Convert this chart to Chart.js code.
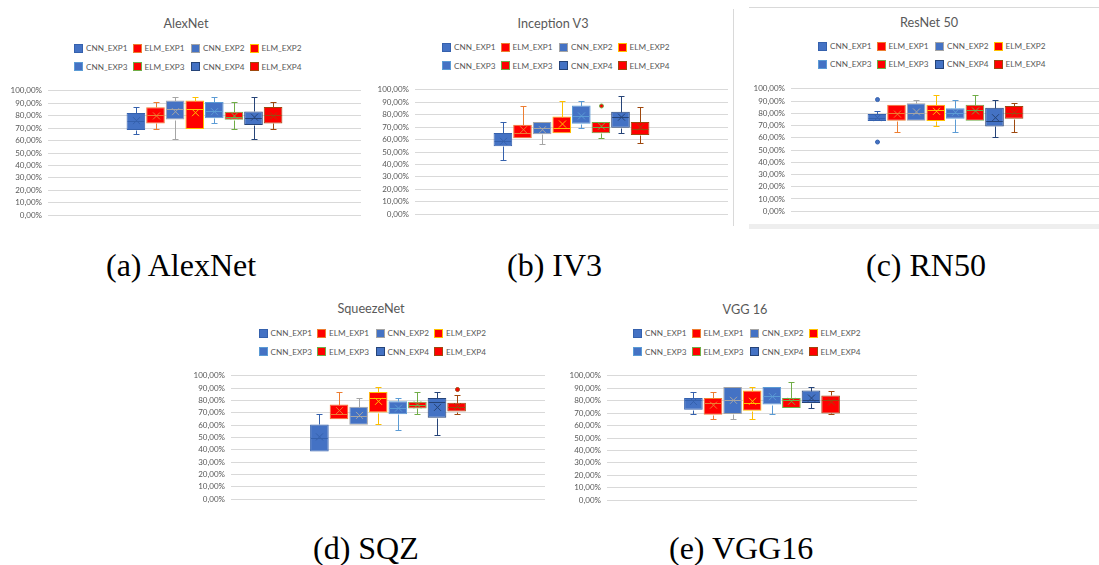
<!DOCTYPE html>
<html>
<head>
<meta charset="utf-8">
<script src="https://cdn.jsdelivr.net/npm/chart.js@4.4.1/dist/chart.umd.min.js"></script>
<style>
  html, body { margin: 0; padding: 0; background: #fff; width: 1099px; height: 565px; overflow: hidden; }
  body { position: relative; font-family: Lato, "Liberation Sans", sans-serif; }
  canvas { position: absolute; }
  .title { position: absolute; color: #595959; font-size: 12.7px; white-space: nowrap; transform: translate(-50%, -50%); line-height: 1; }
  .legend-item { position: absolute; height: 9px; width: 58px; font-size: 8.2px; color: #595959; white-space: nowrap; }
  .legend-item i { position: absolute; left: 0; top: 0; width: 7px; height: 7px; border: 1px solid; }
  .legend-item span { position: absolute; left: 12px; top: 50%; transform: translateY(-50%); line-height: 1; }
  .caption { position: absolute; font-family: "Liberation Serif", "Times New Roman", serif; font-size: 32px; line-height: 32px; color: #000; white-space: nowrap; }
  .frame { position: absolute; background: #D9D9D9; }
</style>
</head>
<body>
<script>
// Series shared by every panel
const seriesNames = ['CNN_EXP1', 'ELM_EXP1', 'CNN_EXP2', 'ELM_EXP2', 'CNN_EXP3', 'ELM_EXP3', 'CNN_EXP4', 'ELM_EXP4'];
const fillColors  = ['#4472C4', '#FF0000', '#4472C4', '#FF0000', '#4472C4', '#FF0000', '#4472C4', '#FF0000'];
const lineColors  = ['#3561AD', '#ED7D31', '#A5A5A5', '#FFC000', '#5B9BD5', '#70AD47', '#264478', '#9E480E'];

const chartTitles = ['AlexNet', 'Inception V3', 'ResNet 50', 'SqueezeNet', 'VGG 16'];
const captions    = ['(a) AlexNet', '(b) IV3', '(c) RN50', '(d) SQZ', '(e) VGG16'];

// Accuracy (%) per series: [min, q1, median, q3, max, mean]
const alexnetBoxes = [
  [65.0, 68.4, 75.9, 82.1, 86.8, 76.0],
  [69.2, 73.8, 80.6, 86.8, 90.7, 79.8],
  [60.9, 76.9, 85.0, 92.2, 94.8, 83.2],
  [69.2, 69.2, 85.0, 92.2, 94.8, 82.4],
  [73.8, 78.0, 84.0, 90.9, 94.8, 83.2],
  [69.2, 76.7, 79.0, 83.2, 90.7, 79.8],
  [60.9, 72.5, 78.0, 83.4, 95.0, 78.8],
  [69.2, 73.8, 80.6, 87.0, 90.7, 79.8]
];
const alexnetOutliers = [[], [], [], [], [], [], [], []];

const inceptionBoxes = [
  [43.3, 54.7, 59.1, 65.3, 74.4, 58.6],
  [61.1, 61.1, 65.0, 72.0, 87.0, 67.9],
  [56.5, 64.2, 69.4, 74.1, 74.1, 67.9],
  [65.0, 65.0, 69.4, 78.5, 91.2, 72.5],
  [69.4, 72.8, 79.0, 87.3, 91.2, 79.0],
  [61.1, 65.0, 69.9, 74.1, 74.1, 70.7],
  [65.0, 69.4, 78.5, 82.4, 95.3, 78.0],
  [57.5, 63.7, 68.1, 74.1, 86.0, 70.0]
];
const inceptionOutliers = [[], [], [], [], [], [87.0], [], []];

const resnetBoxes = [
  [73.6, 73.6, 76.4, 79.5, 81.9, 76.4],
  [65.0, 73.8, 80.6, 87.0, 87.0, 79.3],
  [73.8, 73.8, 80.6, 88.1, 90.9, 81.1],
  [69.2, 73.6, 82.4, 87.0, 95.1, 81.6],
  [65.0, 75.6, 80.6, 84.2, 90.9, 80.8],
  [73.8, 73.8, 82.4, 87.0, 95.1, 81.9],
  [60.9, 69.2, 74.1, 84.5, 90.9, 76.4],
  [65.0, 75.6, 80.6, 86.0, 88.6, 80.3]
];
const resnetOutliers = [[91.2, 56.5], [], [], [], [], [], [], []];

const squeezenetBoxes = [
  [38.6, 38.6, 50.0, 60.6, 68.9, 50.5],
  [64.8, 64.8, 68.9, 76.7, 86.8, 71.8],
  [60.4, 60.4, 67.4, 74.9, 82.1, 67.9],
  [60.6, 70.2, 82.4, 86.8, 90.9, 79.3],
  [56.2, 68.9, 73.8, 79.3, 82.1, 73.8],
  [69.2, 73.6, 76.4, 79.0, 86.8, 76.4],
  [51.8, 66.1, 79.0, 82.1, 86.8, 74.4],
  [68.9, 71.0, 74.4, 78.2, 84.5, 75.1]
];
const squeezenetOutliers = [[], [], [], [], [], [], [], [88.9]];

const vggBoxes = [
  [69.4, 72.8, 80.3, 82.1, 87.0, 79.3],
  [65.0, 68.7, 78.5, 82.1, 87.0, 76.4],
  [65.0, 69.2, 80.3, 90.9, 90.9, 80.3],
  [65.0, 72.0, 78.5, 88.1, 90.9, 79.5],
  [69.4, 76.9, 83.7, 90.9, 90.9, 83.2],
  [74.1, 74.1, 80.6, 82.1, 95.1, 79.5],
  [74.1, 78.2, 80.3, 88.1, 90.9, 82.1],
  [68.9, 69.7, 80.6, 84.2, 87.6, 79.0]
];
const vggOutliers = [[], [], [], [], [], [], [], []];

const yMin = 0, yMax = 100, yStep = 10;

// Page placement of each panel (pixels)
const panelLayout = [
  { plotLeft: 48,  plotRight: 361,  plotTop: 88,  plotBottom: 217, titleX: 186, titleY: 23,   legendX: 74,    legendY: 48.3, captionX: 106, captionTop: 249 },
  { plotLeft: 415, plotRight: 728,  plotTop: 87,  plotBottom: 216, titleX: 553, titleY: 22.5, legendX: 442,   legendY: 47.3, captionX: 507, captionTop: 249 },
  { plotLeft: 791, plotRight: 1100, plotTop: 86,  plotBottom: 213, titleX: 929, titleY: 21.5, legendX: 818,   legendY: 46,   captionX: 866, captionTop: 249 },
  { plotLeft: 231, plotRight: 545,  plotTop: 373, plotBottom: 501, titleX: 371, titleY: 308,  legendX: 258.5, legendY: 333.3, captionX: 313, captionTop: 532 },
  { plotLeft: 607, plotRight: 917,  plotTop: 373, plotBottom: 502, titleX: 745, titleY: 309,  legendX: 633,   legendY: 333.3, captionX: 669, captionTop: 532 }
];

const panelBoxes    = [alexnetBoxes, inceptionBoxes, resnetBoxes, squeezenetBoxes, vggBoxes];
const panelOutliers = [alexnetOutliers, inceptionOutliers, resnetOutliers, squeezenetOutliers, vggOutliers];

// Whiskers, median line, mean cross and outlier dots on top of the q1..q3 bars
const boxWhiskerPlugin = {
  id: 'boxWhisker',
  afterDatasetsDraw(chart) {
    const ctx = chart.ctx;
    const y = chart.scales.y;
    chart.data.datasets.forEach((ds, i) => {
      const bar = chart.getDatasetMeta(i).data[0];
      if (!bar) return;
      const [mn, q1, med, q3, mx, mean] = ds.stats;
      const cx = Math.round(bar.x) + 0.5;
      const half = bar.width / 2;
      const capHalf = 3;
      const py = v => Math.round(y.getPixelForValue(v)) + 0.5;
      ctx.save();
      ctx.strokeStyle = ds.borderColor;
      ctx.lineWidth = 1;
      ctx.beginPath();
      if (mx > q3) {
        ctx.moveTo(cx, py(q3)); ctx.lineTo(cx, py(mx));
        ctx.moveTo(cx - capHalf, py(mx)); ctx.lineTo(cx + capHalf, py(mx));
      }
      if (mn < q1) {
        ctx.moveTo(cx, py(q1)); ctx.lineTo(cx, py(mn));
        ctx.moveTo(cx - capHalf, py(mn)); ctx.lineTo(cx + capHalf, py(mn));
      }
      // median
      ctx.moveTo(bar.x - half + 1, py(med)); ctx.lineTo(bar.x + half - 1, py(med));
      ctx.stroke();
      // mean cross
      const my = y.getPixelForValue(mean);
      const s = 3.5;
      ctx.beginPath();
      ctx.moveTo(cx - s, my - s); ctx.lineTo(cx + s, my + s);
      ctx.moveTo(cx + s, my - s); ctx.lineTo(cx - s, my + s);
      ctx.stroke();
      // outliers
      ds.outliers.forEach(v => {
        ctx.beginPath();
        ctx.arc(cx, y.getPixelForValue(v), 2, 0, Math.PI * 2);
        ctx.fillStyle = ds.backgroundColor;
        ctx.fill();
        ctx.stroke();
      });
      ctx.restore();
    });
  }
};

function addText(cls, text, left, top) {
  const d = document.createElement('div');
  d.className = cls;
  d.textContent = text;
  d.style.left = left + 'px';
  d.style.top = top + 'px';
  document.body.appendChild(d);
  return d;
}

function addLegend(layout) {
  seriesNames.forEach((name, i) => {
    const item = document.createElement('div');
    item.className = 'legend-item';
    item.style.left = (layout.legendX + (i % 4) * 58.5) + 'px';
    item.style.top = (layout.legendY - 4.5 + Math.floor(i / 4) * 18.3) + 'px';
    const sw = document.createElement('i');
    sw.style.background = fillColors[i];
    sw.style.borderColor = lineColors[i];
    const label = document.createElement('span');
    label.textContent = name;
    item.appendChild(sw);
    item.appendChild(label);
    document.body.appendChild(item);
  });
}

function addPanel(idx) {
  const layout = panelLayout[idx];
  const boxes = panelBoxes[idx];
  const outliers = panelOutliers[idx];

  addText('title', chartTitles[idx], layout.titleX, layout.titleY);
  addLegend(layout);
  addText('caption', captions[idx], layout.captionX, layout.captionTop);

  const yAxisWidth = 48, padTop = 8, padBottom = 9, padRight = 1;
  const plotW = layout.plotRight - layout.plotLeft;
  const w = plotW + yAxisWidth + padRight;
  const h = layout.plotBottom - layout.plotTop + padTop + padBottom;
  const canvas = document.createElement('canvas');
  canvas.width = w; canvas.height = h;
  canvas.style.width = w + 'px'; canvas.style.height = h + 'px';
  canvas.style.left = (layout.plotLeft - yAxisWidth) + 'px';
  canvas.style.top = (layout.plotTop - padTop) + 'px';
  document.body.appendChild(canvas);

  const groupWidth = seriesNames.length * 19.6;

  new Chart(canvas, {
    type: 'bar',
    data: {
      labels: [''],
      datasets: seriesNames.map((name, i) => ({
        label: name,
        data: [[boxes[i][1], boxes[i][3]]],
        stats: boxes[i],
        outliers: outliers[i],
        backgroundColor: fillColors[i],
        borderColor: lineColors[i],
        borderWidth: 1,
        borderSkipped: false,
        categoryPercentage: groupWidth / plotW,
        barPercentage: 0.95
      }))
    },
    options: {
      responsive: false,
      animation: false,
      devicePixelRatio: 1,
      layout: { padding: { top: padTop, bottom: padBottom, left: 0, right: padRight } },
      plugins: { legend: { display: false }, tooltip: { enabled: false }, title: { display: false } },
      scales: {
        x: { display: false },
        y: {
          min: yMin, max: yMax,
          afterFit(scale) { scale.width = yAxisWidth; },
          border: { display: false },
          grid: { color: '#D9D9D9', lineWidth: 1, drawTicks: false },
          ticks: {
            stepSize: yStep, padding: 6, color: '#595959',
            font: { family: 'Lato', size: 8 },
            callback: v => v.toFixed(2).replace('.', ',') + '%'
          }
        }
      }
    },
    plugins: [boxWhiskerPlugin]
  });
}

for (let i = 0; i < panelLayout.length; i++) addPanel(i);

// Chart frame edges around the upper panels
function addFrame(left, top, width, height, color) {
  const f = document.createElement('div');
  f.className = 'frame';
  f.style.left = left + 'px'; f.style.top = top + 'px';
  f.style.width = width + 'px'; f.style.height = height + 'px';
  if (color) f.style.background = color;
  document.body.appendChild(f);
}
addFrame(733, 9, 1, 217);
addFrame(749, 7, 350, 1);
addFrame(749, 224, 350, 5, '#EEEEEE');
</script>
</body>
</html>
